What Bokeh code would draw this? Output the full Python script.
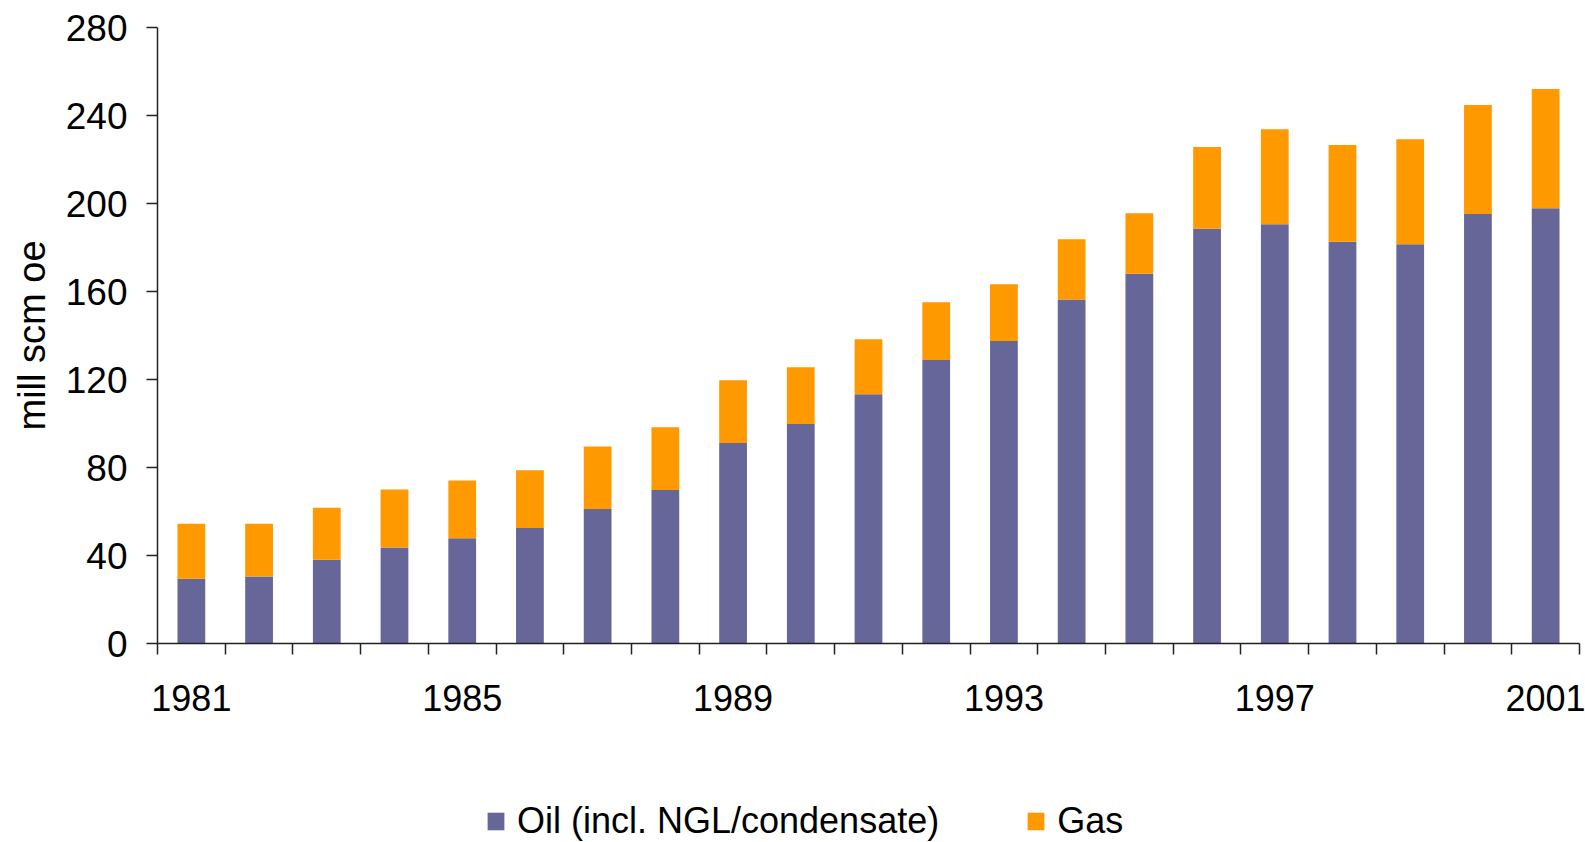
from bokeh.plotting import figure
from bokeh.layouts import column
from bokeh.models import FixedTicker, Legend, LegendItem, Range1d
from bokeh.embed import file_html
from bokeh.resources import INLINE

years = list(range(1981, 2002))
oil = [29.4, 30.4, 38.1, 43.6, 47.8, 52.5, 61.1, 69.8, 91.1, 99.8, 113.3,
       128.9, 137.5, 156.4, 168.1, 188.5, 190.6, 182.6, 181.5, 195.2, 197.8]
gas = [25.0, 24.0, 23.6, 26.4, 26.3, 26.2, 28.5, 28.5, 28.6, 25.8, 25.0,
       26.2, 25.8, 27.3, 27.5, 37.2, 43.2, 44.0, 47.7, 49.6, 54.2]
label_years = [1981, 1985, 1989, 1993, 1997, 2001]
y_ticks = [0, 40, 80, 120, 160, 200, 240, 280]
series_names = ["Oil (incl. NGL/condensate)", "Gas"]
colors = ["#666699", "#FF9900"]

FONT = "Liberation Sans"

p = figure(width=1585, height=760, output_backend="svg", toolbar_location=None,
           x_range=Range1d(years[0] - 0.5, years[-1] + 0.5),
           y_range=Range1d(0, 280),
           min_border_left=157, min_border_right=6, min_border_top=27,
           min_border_bottom=117)
p.outline_line_color = None
p.grid.visible = False
p.background_fill_color = "white"

src = dict(year=years, oil=oil, gas=gas)
rs = p.vbar_stack(["oil", "gas"], x="year", width=0.41, source=src,
                  color=colors, line_color=None)

# x axis
boundaries = [y - 0.5 for y in years] + [years[-1] + 0.5]
xa = p.xaxis[0]
xa.ticker = FixedTicker(ticks=label_years, minor_ticks=boundaries)
xa.major_tick_out = 0
xa.major_tick_in = 0
xa.minor_tick_out = 11
xa.minor_tick_in = 0
xa.minor_tick_line_color = "#222222"
xa.minor_tick_line_width = 1.5
xa.axis_line_color = "#222222"
xa.axis_line_width = 1.5
xa.major_label_standoff = 30
xa.major_label_text_font = FONT
xa.major_label_text_font_size = "36px"
xa.major_label_text_color = "black"

# y axis
ya = p.yaxis[0]
ya.ticker = FixedTicker(ticks=y_ticks)
ya.major_tick_out = 11
ya.major_tick_in = 0
ya.minor_tick_out = 0
ya.minor_tick_in = 0
ya.major_tick_line_color = "#222222"
ya.major_tick_line_width = 1.5
ya.axis_line_color = "#222222"
ya.axis_line_width = 1.5
ya.major_label_standoff = 19
ya.major_label_text_font = FONT
ya.major_label_text_font_size = "37px"
ya.major_label_text_color = "black"
ya.axis_label = "mill scm oe"
ya.axis_label_text_font = FONT
ya.axis_label_text_font_size = "38px"
ya.axis_label_text_font_style = "normal"
ya.axis_label_text_color = "black"
ya.axis_label_standoff = 10

# legend strip below the chart (swatch renderers have zero height, nothing drawn)
lf = figure(width=1585, height=82, output_backend="svg", toolbar_location=None,
            x_range=Range1d(0, 1), y_range=Range1d(0, 1),
            x_axis_type=None, y_axis_type=None,
            min_border_left=0, min_border_right=0, min_border_top=0, min_border_bottom=0)
lf.outline_line_color = None
lf.grid.visible = False
lf.background_fill_color = "white"
lr = [lf.vbar(x=[-5], top=[0], bottom=[0], width=0.0, color=c, line_color=None) for c in colors]
legend = Legend(items=[LegendItem(label=series_names[i], renderers=[lr[i]]) for i in range(2)],
                location=(328, 0), orientation="horizontal",
                glyph_width=21, glyph_height=22, label_standoff=11, spacing=86,
                padding=0, margin=0, border_line_color=None, background_fill_alpha=0,
                label_text_font=FONT, label_text_font_size="36px",
                label_text_color="black")
lf.add_layout(legend, "center")

layout = column(p, lf, spacing=0)
open("out.html", "w").write(file_html(layout, INLINE))
